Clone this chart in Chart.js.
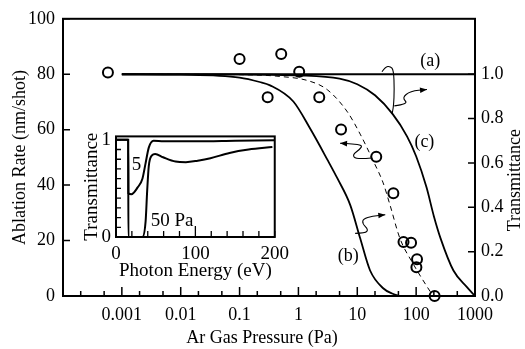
<!DOCTYPE html>
<html>
<head>
<meta charset="utf-8">
<script src="https://cdn.jsdelivr.net/npm/chart.js@4.4.0/dist/chart.umd.min.js"></script>
<style>
  html, body { margin: 0; padding: 0; background: #fff; }
  #wrap { position: relative; width: 525px; height: 349px; }
  #main { position: absolute; left: 0; top: 0; }
  #inset { position: absolute; left: 80px; top: 120px; }
</style>
</head>
<body>
<div id="wrap">
  <canvas id="main" width="525" height="349"></canvas>
  <canvas id="inset" width="215" height="165"></canvas>
</div>
<script>
const FONT = '"Liberation Serif", "Times New Roman", serif';

// ablation rate measurements (circles)
const pressure = [0.00058, 0.1, 0.3, 0.51, 1.03, 2.26, 5.3, 21, 41, 61, 82, 103.5, 101, 206];
const ablationRate = [80.6, 85.5, 71.7, 87.3, 80.9, 71.7, 60.1, 50.2, 37.1, 19.5, 19.2, 13.3, 10.4, 0];

// transmittance curves (a), (b), (c) and the dashed one
const curveAP = [0.001, 1000];
const curveAT = [1.0, 1.0];
const curveBP = [0.001, 0.01, 0.1, 0.22, 0.33, 0.82, 1.58, 3.1, 4.6, 7.6, 11.2, 16.5, 27.5, 40, 53];
const curveBT = [1.0, 0.998, 0.985, 0.965, 0.95, 0.877, 0.755, 0.615, 0.53, 0.41, 0.26, 0.115, 0.035, 0.01, 0.0];
const curveCP = [0.001, 0.1, 1, 5, 10, 20, 40, 70, 100, 150, 200, 260, 430, 730, 1000];
const curveCT = [1.0, 0.999, 0.995, 0.98, 0.955, 0.905, 0.82, 0.72, 0.63, 0.49, 0.36, 0.26, 0.115, 0.04, 0.0];
const dashedP = [0.001, 0.1, 0.49, 1.5, 3.1, 6.8, 11.2, 18.6, 27.5, 36, 53, 89, 155, 195];
const dashedT = [1.0, 0.998, 0.99, 0.97, 0.93, 0.83, 0.73, 0.61, 0.51, 0.41, 0.26, 0.145, 0.04, 0.0];

// axis ticks
const pTickValues = [1e-4, 2e-4, 5e-4, 1e-3, 2e-3, 5e-3, 1e-2, 2e-2, 5e-2, 0.1, 0.2, 0.5,
                     1, 2, 5, 10, 20, 50, 100, 200, 500, 1000];
const pDecades = [0.001, 0.01, 0.1, 1, 10, 100, 1000];
const pDecadeLabels = ['0.001', '0.01', '0.1', '1', '10', '100', '1000'];
const rateTicks = [0, 20, 40, 60, 80, 100];
const transTicks = [0, 0.2, 0.4, 0.6, 0.8, 1.0];

// inset: transmittance vs photon energy
const energy5 = [0, 15.4, 15.6, 19.4, 27.3, 33.3, 37.3, 41.3, 47.3, 60, 100, 150, 200];
const trans5 = [1, 1, 0.45, 0.44, 0.51, 0.60, 0.76, 0.92, 0.99, 0.985, 0.985, 0.99, 0.995];
const energy50 = [0, 15.4, 15.6, 33.3, 37.3, 39.3, 41.3, 45.3, 49.3, 59.3, 75, 88, 103, 119, 143, 167, 197];
const trans50 = [1, 1, 0, 0, 0.16, 0.48, 0.73, 0.84, 0.855, 0.82, 0.776, 0.77, 0.785, 0.81, 0.865, 0.90, 0.925];
const energyTicks = [0, 20, 40, 60, 80, 100, 120, 140, 160, 180, 200];
const energyLabels = [0, 100, 200];
const insetTransTicks = [0, 0.1, 0.2, 0.3, 0.4, 0.5, 0.6, 0.7, 0.8, 0.9, 1.0];
const insetTransLabels = [0, 1];

// curly annotation arrows, in (pressure, rate) units
const arrowToRight1P = [42.6, 74.5, 57.5, 79.6, 153];
const arrowToRight1R = [68.6, 69.2, 71.5, 73.9, 74.5];
const hookP = [26.3, 29.9, 36.4, 41.4, 42.6, 41.4, 38.9];
const hookR = [80.9, 82.7, 82.9, 81.5, 74.5, 68.6, 65.6];
const arrowLeftP = [17.3, 9.6, 8.2, 11.2, 12.2, 8.2, 5.1];
const arrowLeftR = [49.8, 49.3, 50.9, 53.0, 54.4, 54.9, 55.1];
const arrowRight2P = [9.2, 13.7, 15.4, 12.2, 12.6, 18.0, 29.9];
const arrowRight2R = [22.6, 22.6, 24.0, 26.1, 27.9, 28.8, 29.3];

const toXY = (xs, ys) => xs.map((v, i) => ({ x: v, y: ys[i] }));
const isDecade = v => Math.abs(Math.log10(v) - Math.round(Math.log10(v))) < 1e-9;

function smoothPath(ctx, pts) {
    ctx.beginPath();
    ctx.moveTo(pts[0][0], pts[0][1]);
    for (let i = 1; i < pts.length - 1; i++) {
        const mx = (pts[i][0] + pts[i + 1][0]) / 2, my = (pts[i][1] + pts[i + 1][1]) / 2;
        ctx.quadraticCurveTo(pts[i][0], pts[i][1], mx, my);
    }
    const last = pts[pts.length - 1];
    ctx.lineTo(last[0], last[1]);
    ctx.stroke();
}

function arrowHead(ctx, from, to) {
    const ang = Math.atan2(to[1] - from[1], to[0] - from[0]);
    ctx.beginPath();
    ctx.moveTo(to[0], to[1]);
    ctx.lineTo(to[0] - 7 * Math.cos(ang) + 2.8 * Math.sin(ang), to[1] - 7 * Math.sin(ang) - 2.8 * Math.cos(ang));
    ctx.lineTo(to[0] - 7 * Math.cos(ang) - 2.8 * Math.sin(ang), to[1] - 7 * Math.sin(ang) + 2.8 * Math.cos(ang));
    ctx.closePath();
    ctx.fill();
}

const mainDecor = {
    id: 'mainDecor',
    beforeDatasetsDraw(chart) {
        const { ctx, chartArea: a, scales } = chart;
        ctx.save();
        ctx.strokeStyle = '#000';
        ctx.lineWidth = 2;
        ctx.strokeRect(a.left, a.top, a.right - a.left, a.bottom - a.top);
        ctx.lineWidth = 1.5;
        ctx.beginPath();
        pTickValues.forEach(v => {
            const px = scales.x.getPixelForValue(v);
            ctx.moveTo(px, a.bottom);
            ctx.lineTo(px, a.bottom - (isDecade(v) ? 9 : 5));
        });
        rateTicks.forEach(v => {
            const py = scales.y.getPixelForValue(v);
            ctx.moveTo(a.left, py);
            ctx.lineTo(a.left + 7, py);
        });
        transTicks.forEach(v => {
            const py = scales.yT.getPixelForValue(v);
            ctx.moveTo(a.right, py);
            ctx.lineTo(a.right - 7, py);
        });
        ctx.stroke();
        ctx.restore();
    },
    afterDraw(chart) {
        const { ctx, chartArea: a, scales } = chart;
        const pt = (p, r) => [scales.x.getPixelForValue(p), scales.y.getPixelForValue(r)];
        ctx.save();
        ctx.fillStyle = '#000';
        ctx.font = '18px ' + FONT;
        ctx.textAlign = 'center';
        ctx.textBaseline = 'middle';
        // axis titles
        ctx.fillText('Ar Gas Pressure (Pa)', (a.left + a.right) / 2 - 7, 338);
        ctx.save();
        ctx.translate(20, (a.top + a.bottom) / 2);
        ctx.rotate(-Math.PI / 2);
        ctx.fillText('Ablation Rate (nm/shot)', 0, 0);
        ctx.restore();
        ctx.save();
        ctx.translate(515, (scales.yT.getPixelForValue(0) + scales.yT.getPixelForValue(1)) / 2 - 5);
        ctx.rotate(-Math.PI / 2);
        ctx.fillText('Transmittance', 0, 0);
        ctx.restore();
        // curve labels
        ctx.fillText('(a)', ...pt(174, 84.8));
        ctx.fillText('(c)', ...pt(138, 55.5));
        ctx.fillText('(b)', ...pt(7.0, 14.5));
        // curly arrows
        ctx.strokeStyle = '#000';
        ctx.lineWidth = 1.1;
        const draw = (ps, rs, head) => {
            const pts = ps.map((p, i) => pt(p, rs[i]));
            smoothPath(ctx, pts);
            if (head) arrowHead(ctx, pts[pts.length - 2], pts[pts.length - 1]);
        };
        draw(hookP, hookR, false);
        draw(arrowToRight1P, arrowToRight1R, true);
        draw(arrowLeftP, arrowLeftR, true);
        draw(arrowRight2P, arrowRight2R, true);
        ctx.restore();
    }
};

const lineStyle = {
    showLine: true,
    borderColor: '#000',
    borderWidth: 1.8,
    pointRadius: 0,
    fill: false,
    cubicInterpolationMode: 'monotone',
    yAxisID: 'yT'
};

new Chart(document.getElementById('main'), {
    type: 'scatter',
    data: {
        datasets: [{
            label: 'Ablation rate',
            data: toXY(pressure, ablationRate),
            yAxisID: 'y',
            pointStyle: 'circle',
            pointRadius: 5,
            borderWidth: 2,
            borderColor: '#000',
            backgroundColor: 'rgba(0,0,0,0)',
            clip: false
        },
        { ...lineStyle, label: '(a)', data: toXY(curveAP, curveAT) },
        { ...lineStyle, label: '(b)', data: toXY(curveBP, curveBT) },
        { ...lineStyle, label: '(c)', data: toXY(curveCP, curveCT) },
        { ...lineStyle, label: 'dashed', data: toXY(dashedP, dashedT), borderWidth: 1, borderDash: [5, 4] }]
    },
    options: {
        responsive: false,
        animation: false,
        devicePixelRatio: 1,
        layout: { padding: { top: 13, left: 0, right: 0, bottom: 0 } },
        plugins: { legend: { display: false }, tooltip: { enabled: false } },
        scales: {
            x: {
                type: 'logarithmic',
                min: 1e-4,
                max: 1e3,
                grid: { display: false, drawTicks: false },
                border: { display: false },
                afterBuildTicks: s => { s.ticks = pTickValues.map(v => ({ value: v })); },
                afterFit: s => { s.height = 53; },
                ticks: {
                    autoSkip: false,
                    maxRotation: 0,
                    minRotation: 0,
                    padding: 8,
                    color: '#000',
                    font: { family: FONT, size: 18 },
                    callback: v => {
                        const i = pDecades.findIndex(d => Math.abs(d - v) / d < 1e-9);
                        return i >= 0 ? pDecadeLabels[i] : '';
                    }
                }
            },
            y: {
                position: 'left',
                min: 0,
                max: 100,
                grid: { display: false, drawTicks: false },
                border: { display: false },
                afterBuildTicks: s => { s.ticks = rateTicks.map(v => ({ value: v })); },
                afterFit: s => { s.width = 63; },
                ticks: { padding: 8, color: '#000', font: { family: FONT, size: 18 } }
            },
            yT: {
                position: 'right',
                min: 0,
                max: 1.25,
                grid: { display: false, drawTicks: false },
                border: { display: false },
                afterBuildTicks: s => { s.ticks = transTicks.map(v => ({ value: v })); },
                afterFit: s => { s.width = 50; },
                ticks: {
                    padding: 6,
                    color: '#000',
                    font: { family: FONT, size: 18 },
                    callback: v => v.toFixed(1)
                }
            }
        }
    },
    plugins: [mainDecor]
});

// ---- inset ----
const insetDecor = {
    id: 'insetDecor',
    beforeDatasetsDraw(chart) {
        const { ctx, chartArea: a } = chart;
        ctx.save();
        ctx.fillStyle = '#fff';
        ctx.fillRect(a.left, a.top, a.right - a.left, a.bottom - a.top);
        ctx.restore();
    },
    afterDraw(chart) {
        const { ctx, chartArea: a, scales } = chart;
        ctx.save();
        ctx.strokeStyle = '#000';
        ctx.lineWidth = 2;
        ctx.strokeRect(a.left, a.top, a.right - a.left, a.bottom - a.top);
        ctx.lineWidth = 1.3;
        ctx.beginPath();
        energyTicks.forEach(v => {
            const px = scales.x.getPixelForValue(v);
            ctx.moveTo(px, a.bottom);
            ctx.lineTo(px, a.bottom - (v === 100 ? 11 : 6));
        });
        insetTransTicks.forEach(v => {
            const py = scales.y.getPixelForValue(v);
            ctx.moveTo(a.left, py);
            ctx.lineTo(a.left + 5, py);
        });
        ctx.stroke();
        ctx.fillStyle = '#000';
        ctx.font = '19px ' + FONT;
        ctx.textAlign = 'center';
        ctx.textBaseline = 'middle';
        ctx.fillText('Photon Energy (eV)', (a.left + a.right) / 2, 151);
        ctx.save();
        ctx.translate(12, (a.top + a.bottom) / 2);
        ctx.rotate(-Math.PI / 2);
        ctx.fillText('Transmittance', 0, 0);
        ctx.restore();
        ctx.fillText('5', scales.x.getPixelForValue(25.7), scales.y.getPixelForValue(0.74));
        ctx.textAlign = 'left';
        ctx.fillText('50 Pa', scales.x.getPixelForValue(43.7), scales.y.getPixelForValue(0.16));
        ctx.restore();
    }
};

const insetLine = {
    showLine: true,
    borderColor: '#000',
    borderWidth: 2,
    pointRadius: 0,
    fill: false,
    cubicInterpolationMode: 'monotone'
};

new Chart(document.getElementById('inset'), {
    type: 'scatter',
    data: {
        datasets: [
            { ...insetLine, label: '5 Pa', data: toXY(energy5, trans5) },
            { ...insetLine, label: '50 Pa', data: toXY(energy50, trans50) }
        ]
    },
    options: {
        responsive: false,
        animation: false,
        devicePixelRatio: 1,
        layout: { padding: { top: 7, right: 12, left: 0, bottom: 0 } },
        plugins: { legend: { display: false }, tooltip: { enabled: false } },
        scales: {
            x: {
                type: 'linear',
                min: 0,
                max: 200,
                grid: { display: false, drawTicks: false },
                border: { display: false },
                afterBuildTicks: s => { s.ticks = energyLabels.map(v => ({ value: v })); },
                afterFit: s => { s.height = 48; },
                ticks: { padding: 6, maxRotation: 0, color: '#000', font: { family: FONT, size: 19 } }
            },
            y: {
                min: 0,
                max: 1.035,
                grid: { display: false, drawTicks: false },
                border: { display: false },
                afterBuildTicks: s => { s.ticks = insetTransLabels.map(v => ({ value: v })); },
                afterFit: s => { s.width = 36; },
                ticks: { padding: 5, color: '#000', font: { family: FONT, size: 19 } }
            }
        }
    },
    plugins: [insetDecor]
});
</script>
</body>
</html>
